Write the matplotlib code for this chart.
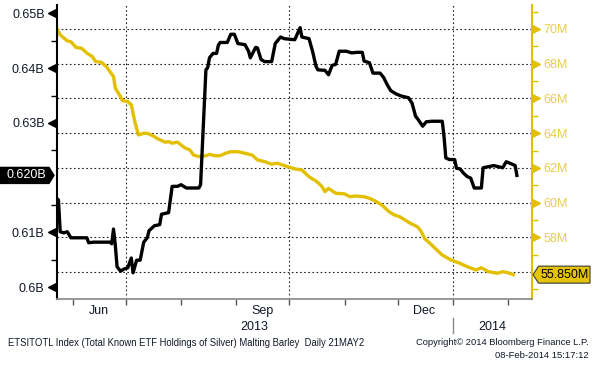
import matplotlib
matplotlib.use("Agg")
import matplotlib.pyplot as plt
from matplotlib.patches import Polygon
from matplotlib.transforms import blended_transform_factory as blend
import pandas as pd

plt.rcParams['font.family'] = ['Liberation Sans', 'DejaVu Sans']

# ---------------- data ----------------
barley_dates = [
    '2013-05-23', '2013-05-24', '2013-05-25', '2013-05-27', '2013-05-29', '2013-05-31',
    '2013-06-03', '2013-06-09', '2013-06-10', '2013-06-13', '2013-06-22', '2013-06-23',
    '2013-06-24', '2013-06-25', '2013-06-26', '2013-06-28', '2013-06-30', '2013-07-02',
    '2013-07-04', '2013-07-05', '2013-07-07', '2013-07-09', '2013-07-11', '2013-07-13',
    '2013-07-14', '2013-07-17', '2013-07-20', '2013-07-21', '2013-07-25', '2013-07-27',
    '2013-07-30', '2013-08-01', '2013-08-04', '2013-08-11', '2013-08-12', '2013-08-15',
    '2013-08-16', '2013-08-17', '2013-08-19', '2013-08-21', '2013-08-22', '2013-08-23',
    '2013-08-27', '2013-08-29', '2013-08-31', '2013-09-02', '2013-09-06', '2013-09-08',
    '2013-09-09', '2013-09-12', '2013-09-13', '2013-09-15', '2013-09-17', '2013-09-21',
    '2013-09-23', '2013-09-26', '2013-09-28', '2013-10-04', '2013-10-07', '2013-10-08',
    '2013-10-12', '2013-10-14', '2013-10-16', '2013-10-17', '2013-10-21', '2013-10-23',
    '2013-10-25', '2013-10-27', '2013-10-29', '2013-11-02', '2013-11-05', '2013-11-08',
    '2013-11-11', '2013-11-12', '2013-11-15', '2013-11-17', '2013-11-21', '2013-11-23',
    '2013-11-25', '2013-11-27', '2013-11-30', '2013-12-03', '2013-12-07', '2013-12-09',
    '2013-12-11', '2013-12-12', '2013-12-15', '2013-12-17', '2013-12-20', '2013-12-26',
    '2013-12-27', '2013-12-28', '2013-12-30', '2014-01-02', '2014-01-03', '2014-01-05',
    '2014-01-07', '2014-01-09', '2014-01-11', '2014-01-13', '2014-01-17', '2014-01-18',
    '2014-01-21', '2014-01-24', '2014-01-29', '2014-01-31', '2014-02-03', '2014-02-05',
    '2014-02-06']
barley_values = [  # billions
    0.6162, 0.6159, 0.6101, 0.6099, 0.6101, 0.6090,
    0.6090, 0.6090, 0.6081, 0.6082, 0.6082, 0.6079,
    0.6106, 0.6077, 0.6037, 0.6029, 0.6033, 0.6035,
    0.6053, 0.6026, 0.6049, 0.6049, 0.6082, 0.6090,
    0.6103, 0.6112, 0.6114, 0.6133, 0.6136, 0.6184,
    0.6184, 0.6187, 0.6181, 0.6181, 0.6187, 0.6397,
    0.6401, 0.6419, 0.6427, 0.6427, 0.6442, 0.6447,
    0.6447, 0.6462, 0.6462, 0.6445, 0.6443, 0.6431,
    0.6419, 0.6438, 0.6437, 0.6416, 0.6412, 0.6412,
    0.6445, 0.6457, 0.6454, 0.6452, 0.6474, 0.6457,
    0.6454, 0.6431, 0.6403, 0.6397, 0.6396, 0.6388,
    0.6405, 0.6407, 0.6431, 0.6431, 0.6428, 0.6429,
    0.6429, 0.6413, 0.6410, 0.6391, 0.6391, 0.6383,
    0.6370, 0.6359, 0.6353, 0.6349, 0.6346, 0.6336,
    0.6312, 0.6308, 0.6294, 0.6302, 0.6303, 0.6303,
    0.6275, 0.6236, 0.6233, 0.6233, 0.6217, 0.6216,
    0.6208, 0.6202, 0.6199, 0.6181, 0.6181, 0.6218,
    0.6220, 0.6222, 0.6218, 0.6229, 0.6225, 0.6222,
    0.6204]

silver_dates = [
    '2013-05-23', '2013-05-25', '2013-05-29', '2013-05-31', '2013-06-03', '2013-06-06',
    '2013-06-09', '2013-06-12', '2013-06-14', '2013-06-17', '2013-06-20', '2013-06-22',
    '2013-06-24', '2013-06-25', '2013-06-28', '2013-06-29', '2013-07-02', '2013-07-04',
    '2013-07-06', '2013-07-08', '2013-07-11', '2013-07-13', '2013-07-16', '2013-07-19',
    '2013-07-23', '2013-07-25', '2013-07-27', '2013-07-30', '2013-08-03', '2013-08-06',
    '2013-08-08', '2013-08-11', '2013-08-15', '2013-08-17', '2013-08-20', '2013-08-23',
    '2013-08-26', '2013-08-29', '2013-09-02', '2013-09-06', '2013-09-10', '2013-09-13',
    '2013-09-17', '2013-09-21', '2013-09-24', '2013-09-27', '2013-09-30', '2013-10-04',
    '2013-10-08', '2013-10-12', '2013-10-16', '2013-10-19', '2013-10-21', '2013-10-23',
    '2013-10-27', '2013-11-01', '2013-11-04', '2013-11-07', '2013-11-12', '2013-11-15',
    '2013-11-19', '2013-11-22', '2013-11-26', '2013-11-29', '2013-12-02', '2013-12-05',
    '2013-12-08', '2013-12-12', '2013-12-14', '2013-12-16', '2013-12-20', '2013-12-24',
    '2013-12-26', '2013-12-31', '2014-01-05', '2014-01-09', '2014-01-14', '2014-01-17',
    '2014-01-21', '2014-01-26', '2014-01-29', '2014-02-01', '2014-02-04']
silver_values = [  # millions
    70.05, 69.66, 69.31, 69.27, 68.93, 68.89,
    68.61, 68.41, 68.12, 68.09, 67.83, 67.54,
    67.26, 66.59, 66.10, 65.87, 65.82, 65.63,
    64.66, 63.90, 63.99, 63.99, 63.86, 63.67,
    63.48, 63.51, 63.42, 63.48, 63.16, 63.03,
    62.74, 62.65, 62.70, 62.78, 62.70, 62.70,
    62.84, 62.93, 62.93, 62.84, 62.74, 62.46,
    62.36, 62.21, 62.27, 62.17, 62.07, 61.94,
    61.88, 61.49, 61.24, 60.96, 60.63, 60.82,
    60.54, 60.50, 60.34, 60.38, 60.34, 60.25,
    60.05, 59.86, 59.48, 59.29, 59.19, 59.00,
    58.81, 58.61, 58.36, 57.94, 57.56, 57.17,
    56.98, 56.69, 56.50, 56.31, 56.12, 56.25,
    56.02, 55.93, 56.02, 55.96, 55.85]

left_major = [0.60, 0.61, 0.62, 0.63, 0.64, 0.65]
left_labels = ['0.6B', '0.61B', '', '0.63B', '0.64B', '0.65B']
left_minor = [0.605, 0.615, 0.625, 0.635, 0.645]
right_major = [56, 58, 60, 62, 64, 66, 68, 70]
right_labels = ['', '58M', '60M', '62M', '64M', '66M', '68M', '70M']
right_minor = [55, 57, 59, 61, 63, 65, 67, 69, 71]
month_ticks = ['2013-06-01', '2013-07-01', '2013-08-01', '2013-09-01', '2013-10-01',
               '2013-11-01', '2013-12-01', '2014-01-01', '2014-02-01']
grid_dates = ['2013-07-01', '2013-10-01', '2014-01-01']
month_label_dates = ['2013-06-16', '2013-09-16', '2013-12-16']
month_labels = ['Jun', 'Sep', 'Dec']
year_labels = ['2013', '2014']
year_break = '2014-01-01'
x_limits = ['2013-05-22 22:00', '2014-02-14 12:00']

footer_left = "ETSITOTL Index (Total Known ETF Holdings of Silver) Malting Barley  Daily 21MAY2"
footer_right1 = "Copyright\u00a9 2014 Bloomberg Finance L.P."
footer_right2 = "08-Feb-2014 15:17:12"

# ---------------- layout ----------------
W_PX, H_PX = 596, 365
AX_L, AX_R, AX_T, AX_B = 56.5, 532.0, 5.0, 299.0
YELLOW = '#E2C000'
YLABEL = '#E9CD4C'
GRID = '#222222'

fig = plt.figure(figsize=(W_PX / 100, H_PX / 100), dpi=100)
ax = fig.add_axes([AX_L / W_PX, 1 - AX_B / H_PX, (AX_R - AX_L) / W_PX, (AX_B - AX_T) / H_PX])
ax2 = ax.twinx()
ax.set_zorder(ax2.get_zorder() + 1)
ax.patch.set_visible(False)


def axfrac_x(px):
    return (px - AX_L) / (AX_R - AX_L)


def axfrac_y(py):
    return (AX_B - py) / (AX_B - AX_T)


bx = pd.to_datetime(barley_dates)
sx = pd.to_datetime(silver_dates)
ax.set_xlim(pd.Timestamp(x_limits[0]), pd.Timestamp(x_limits[1]))
ax.set_ylim(0.59781, 0.65155)
ax2.set_ylim(54.447, 71.381)

# grid (on the back axes)
ax2.grid(axis='y', which='major', color=GRID, lw=0.8, ls=(0, (1.5, 2.2)))
ax2.set_axisbelow(True)
for d in grid_dates:
    ax2.axvline(pd.Timestamp(d), color=GRID, lw=0.8, ls=(0, (1.5, 2.2)), zorder=0.5)

# lines
ax2.plot(sx, silver_values, color=YELLOW, lw=2.4, solid_joinstyle='round', zorder=3)
ax.plot(bx, barley_values, color='black', lw=2.4, solid_joinstyle='round', zorder=3)

# spines
for s in ['top', 'left', 'bottom']:
    ax2.spines[s].set_visible(False)
ax2.spines['right'].set_color(YELLOW)
ax2.spines['right'].set_linewidth(1.5)
for s in ['top', 'right']:
    ax.spines[s].set_visible(False)
ax.spines['left'].set_color('black')
ax.spines['left'].set_linewidth(1.5)
ax.spines['bottom'].set_color('#909090')
ax.spines['bottom'].set_linewidth(1.3)

# left axis ticks
ax.set_yticks(left_major)
ax.set_yticklabels(left_labels)
ax.set_yticks(left_minor, minor=True)
ax.tick_params(axis='y', which='major', length=0, pad=8.5, labelsize=9, labelcolor='#101828')
ax.tick_params(axis='y', which='minor', length=4, width=1, color='black', direction='out')
tl = blend(ax.transAxes, ax.transData)
for v, lab in zip(left_major, left_labels):
    if lab:
        ax.plot([axfrac_x(51.5)], [v], marker='<', ms=5.5, color='black', mec='black',
                transform=tl, clip_on=False)

# right axis ticks
ax2.set_yticks(right_major)
ax2.set_yticklabels(right_labels)
ax2.set_yticks(right_minor, minor=True)
ax2.tick_params(axis='y', which='major', length=0, pad=8.0, labelsize=9, labelcolor=YLABEL)
ax2.tick_params(axis='y', which='minor', length=4, width=1, color=YELLOW, direction='out')
tr = blend(ax2.transAxes, ax2.transData)
for v, lab in zip(right_major, right_labels):
    if lab:
        ax2.plot([axfrac_x(536.0)], [v], marker='>', ms=5.5, color=YELLOW, mec=YELLOW,
                 transform=tr, clip_on=False)

# x axis
ax.set_xticks(pd.to_datetime(month_ticks))
ax.set_xticklabels([])
ax.tick_params(axis='x', which='major', length=4, width=1, color='#555555', direction='out')
ax.tick_params(axis='x', which='minor', length=0)
txy = blend(ax.transData, ax.transAxes)
for d, lab in zip(month_label_dates, month_labels):
    ax.text(pd.Timestamp(d), axfrac_y(311), lab, transform=txy, ha='center', va='center',
            fontsize=9, color='#101828', clip_on=False)
xs, xe = pd.Timestamp(x_limits[0]), pd.Timestamp(x_limits[1])
yb = pd.Timestamp(year_break)
year_pos = [xs + (yb - xs) / 2, yb + (xe - yb) / 2]
for p, lab in zip(year_pos, year_labels):
    ax.text(p, axfrac_y(326.5), lab, transform=txy, ha='center', va='center',
            fontsize=9, color='#101828', clip_on=False)
ax.plot([yb, yb], [axfrac_y(318), axfrac_y(333)], transform=txy, color='#888888', lw=1,
        clip_on=False)

# last-value boxes
lo, hi = ax.get_ylim()
hb = (hi - lo) * 8.0 / (AX_B - AX_T)
last_b = barley_values[-1]
poly = Polygon([(axfrac_x(0), last_b - hb), (axfrac_x(49), last_b - hb), (axfrac_x(54), last_b),
                (axfrac_x(49), last_b + hb), (axfrac_x(0), last_b + hb)],
               closed=True, transform=tl, facecolor='black', edgecolor='black',
               clip_on=False, zorder=10)
ax.add_patch(poly)
ax.text(axfrac_x(26), last_b, f"{last_b:.3f}B", transform=tl, ha='center', va='center',
        color='white', fontsize=9, zorder=11, clip_on=False)

lo2, hi2 = ax2.get_ylim()
hs = (hi2 - lo2) * 8.5 / (AX_B - AX_T)
last_s = silver_values[-1]
poly2 = Polygon([(axfrac_x(533), last_s), (axfrac_x(538.5), last_s - hs), (axfrac_x(590), last_s - hs),
                 (axfrac_x(590), last_s + hs), (axfrac_x(538.5), last_s + hs)],
                closed=True, transform=tr, facecolor='#E4C300', edgecolor='#3a3a3a', lw=0.8,
                clip_on=False, zorder=10)
ax2.add_patch(poly2)
ax2.text(axfrac_x(565), last_s, f"{last_s:.3f}M", transform=tr, ha='center', va='center',
         color='black', fontsize=9, zorder=11, clip_on=False)

# footer
fig.text(8 / W_PX, 1 - 343 / H_PX, footer_left, fontsize=6.85, va='center', ha='left', color='#101828')
fig.text(589 / W_PX, 1 - 342.7 / H_PX, footer_right1, fontsize=6.75, va='center', ha='right', color='#101828')
fig.text(589 / W_PX, 1 - 355.3 / H_PX, footer_right2, fontsize=6.8, va='center', ha='right', color='#101828')

fig.savefig('out.png', dpi=100)
